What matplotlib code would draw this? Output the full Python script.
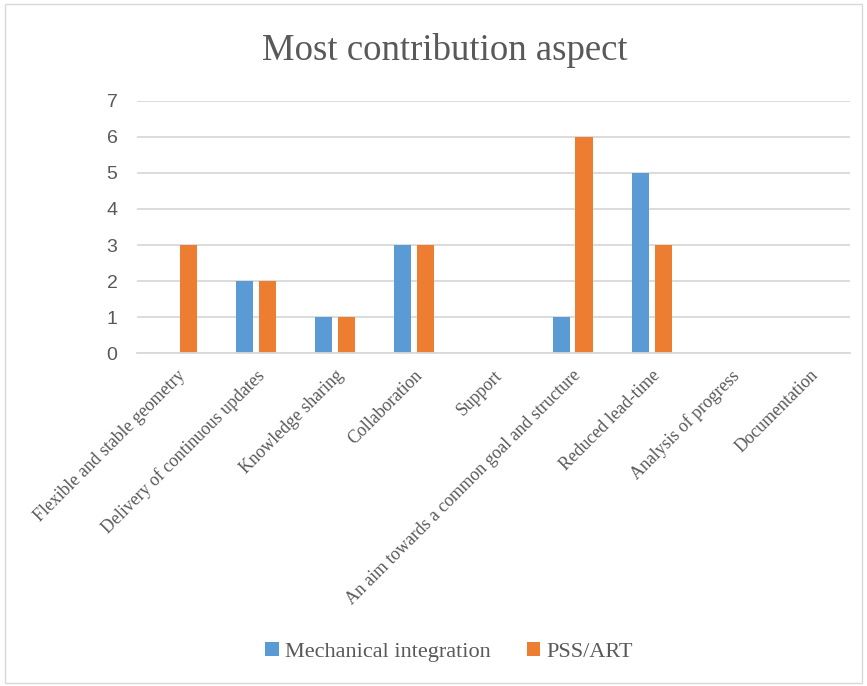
import numpy as np
import matplotlib
matplotlib.use("Agg")
import matplotlib.pyplot as plt
from matplotlib.patches import Rectangle

categories = [
    "Flexible and stable geometry",
    "Delivery of continuous updates",
    "Knowledge sharing",
    "Collaboration",
    "Support",
    "An aim towards a common goal and structure",
    "Reduced lead-time",
    "Analysis of progress",
    "Documentation",
]
mechanical = [0, 2, 1, 3, 0, 1, 5, 0, 0]
pss_art = [3, 2, 1, 3, 0, 6, 3, 0, 0]

BLUE = "#5b9bd5"
ORANGE = "#ed7d31"
TEXT = "#595959"

fig = plt.figure(figsize=(8.67, 6.86), dpi=100)
ax = fig.add_axes([0.158, 0.4854, 0.822, 0.3674])

x = np.arange(len(categories))
w = 0.215
ax.bar(x - 0.145, mechanical, w, color=BLUE, label="Mechanical integration")
ax.bar(x + 0.145, pss_art, w, color=ORANGE, label="PSS/ART")

ax.set_xlim(-0.5, len(categories) - 0.5)
ax.set_ylim(0, 7)
ax.set_yticks(range(8))
ax.grid(axis="y", color="#d9d9d9", linewidth=1.3)
ax.set_axisbelow(True)
for s in ["top", "right", "left"]:
    ax.spines[s].set_visible(False)
ax.spines["bottom"].set_color("#d9d9d9")
ax.spines["bottom"].set_linewidth(1.3)
ax.tick_params(length=0)
ax.tick_params(axis="y", labelsize=14, labelcolor=TEXT, pad=14)
for lbl in ax.get_yticklabels():
    lbl.set_family("Liberation Sans")

ax.set_xticks(x)
ax.set_xticklabels(categories, rotation=45, ha="right", va="top",
                   rotation_mode="anchor", family="Liberation Serif",
                   fontsize=12.8, color=TEXT)
ax.tick_params(axis="x", pad=10)

fig.suptitle("Most contribution aspect", x=0.513, y=0.952, fontsize=26.5,
             family="Liberation Serif", color=TEXT)

fig.legend(loc="center", bbox_to_anchor=(0.518, 0.05), ncol=2, frameon=False,
           prop={"family": "Liberation Serif", "size": 16},
           labelcolor=TEXT, handlelength=0.6, handleheight=0.6,
           handletextpad=0.3, columnspacing=1.6)

fig.patches.append(Rectangle((0.006, 0.004), 0.988, 0.99, transform=fig.transFigure,
                             fill=False, edgecolor="#d9d9d9", linewidth=1))

fig.savefig("out.png", dpi=100)
